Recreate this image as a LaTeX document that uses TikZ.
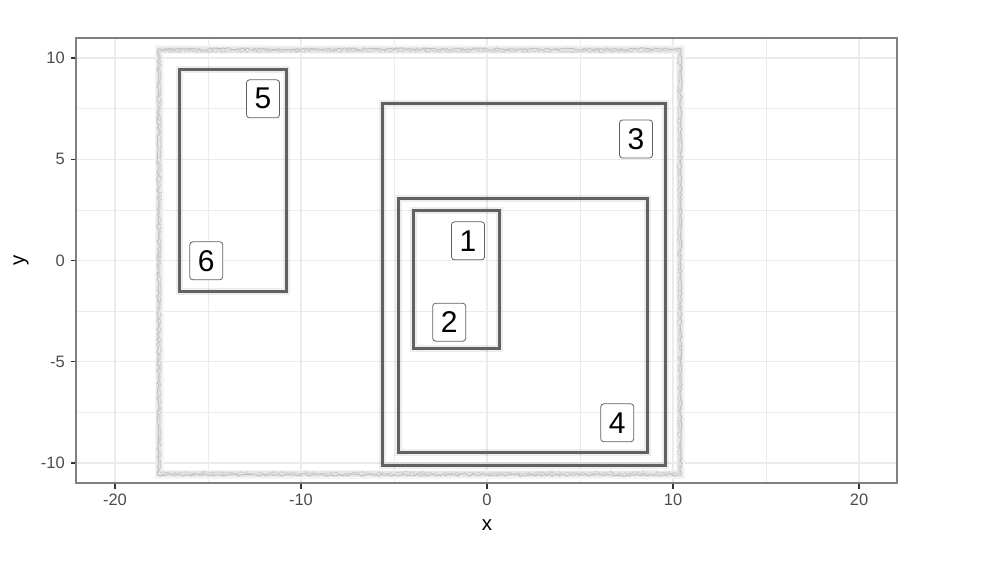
\documentclass[tikz,border=0pt]{standalone}
\usepackage{fontspec}
\setmainfont{Liberation Sans}
\usetikzlibrary{decorations.pathmorphing}
\tikzset{
  gridmajor/.style={line width=1.1pt, draw=black!8},
  gridminor/.style={line width=0.55pt, draw=black!8},
  shadowline/.style={line width=7pt, draw=black, opacity=0.07},
  boxline/.style={line width=3pt, draw=black!62},
  lbl/.style={draw=black!62, line width=0.8pt, rounded corners=3pt, fill=white,
    minimum width=33pt, minimum height=38pt, inner sep=0pt,
    font=\fontsize{30}{30}\selectfont},
  ticklbl/.style={text=black!70, font=\fontsize{16.5}{17}\selectfont, inner sep=0pt},
  axtitle/.style={text=black, font=\fontsize{20.5}{21}\selectfont, inner sep=0pt},
  tickmark/.style={line width=1.1pt, draw=black!80},
}
\begin{document}
\begin{tikzpicture}[x=1pt,y=-1pt]
\useasboundingbox (0,0) rectangle (984,564);
\fill[white] (0,0) rectangle (984,564);
% grid minor
\foreach \xx in {208,394,580,766} \draw[gridminor] (\xx,38) -- (\xx,483);
\foreach \yy in {108.6,209.9,311.1,412.4} \draw[gridminor] (76,\yy) -- (897,\yy);
% grid major
\foreach \xx in {115,301,487,673,859} \draw[gridmajor] (\xx,38) -- (\xx,483);
\foreach \yy in {58,159.25,260.5,361.75,463} \draw[gridmajor] (76,\yy) -- (897,\yy);
% outer rough frame
\pgfmathsetseed{7}
\draw[line width=9pt, draw=black!4] (159,50) rectangle (680,474);
\draw[line width=6pt, draw=black!9] (159,50) rectangle (680,474);
\draw[line width=0.9pt, draw=black!25, decorate, decoration={random steps, segment length=2pt, amplitude=1.2pt}] (158,49) rectangle (681,475);
\draw[line width=0.7pt, draw=black!20, decorate, decoration={random steps, segment length=1.5pt, amplitude=1.5pt}] (160,51) rectangle (679,473);
% shadows
\draw[shadowline] (179.3,69.3) rectangle (286.7,291.7);
\draw[shadowline] (382,103.3) rectangle (665,465.5);
\draw[shadowline] (398.3,198.3) rectangle (647.3,452.7);
\draw[shadowline] (413.5,210) rectangle (499,348.3);
% rectangles
\draw[boxline] (179.3,69.3) rectangle (286.7,291.7);
\draw[boxline] (382,103.3) rectangle (665,465.5);
\draw[boxline] (398.3,198.3) rectangle (647.3,452.7);
\draw[boxline] (413.5,210) rectangle (499,348.3);
% labels
\node[lbl] (l5) at (263,98.8) {5};
\node[lbl] (l3) at (636,139) {3};
\node[lbl] (l1) at (468,240.8) {1};
\node[lbl] (l2) at (449.2,322.2) {2};
\node[lbl] (l6) at (206.3,260.8) {6};
\node[lbl] (l4) at (617.3,422.8) {4};
% panel border
\draw[line width=1.3pt, draw=black!50] (76,38) rectangle (897,483);
% ticks
\foreach \xx in {115,301,487,673,859} \draw[tickmark] (\xx,483.6) -- (\xx,489);
\foreach \yy in {58,159.25,260.5,361.75,463} \draw[tickmark] (75.4,\yy) -- (71,\yy);
% tick labels
\node[ticklbl] (tx1) at (115,500) {-20};
\node[ticklbl] (tx2) at (301,500) {-10};
\node[ticklbl] (tx3) at (487,500) {0};
\node[ticklbl] (tx4) at (673,500) {10};
\node[ticklbl] (tx5) at (859,500) {20};
\node[ticklbl, anchor=east] (ty1) at (65,58) {10};
\node[ticklbl, anchor=east] (ty2) at (65,159.25) {5};
\node[ticklbl, anchor=east] (ty3) at (65,260.5) {0};
\node[ticklbl, anchor=east] (ty4) at (65,361.75) {-5};
\node[ticklbl, anchor=east] (ty5) at (65,463) {-10};
% axis titles
\node[axtitle] (xt) at (487,525) {x};
\node[axtitle, rotate=90] (yt) at (21,260.5) {y};
\end{tikzpicture}
\end{document}
